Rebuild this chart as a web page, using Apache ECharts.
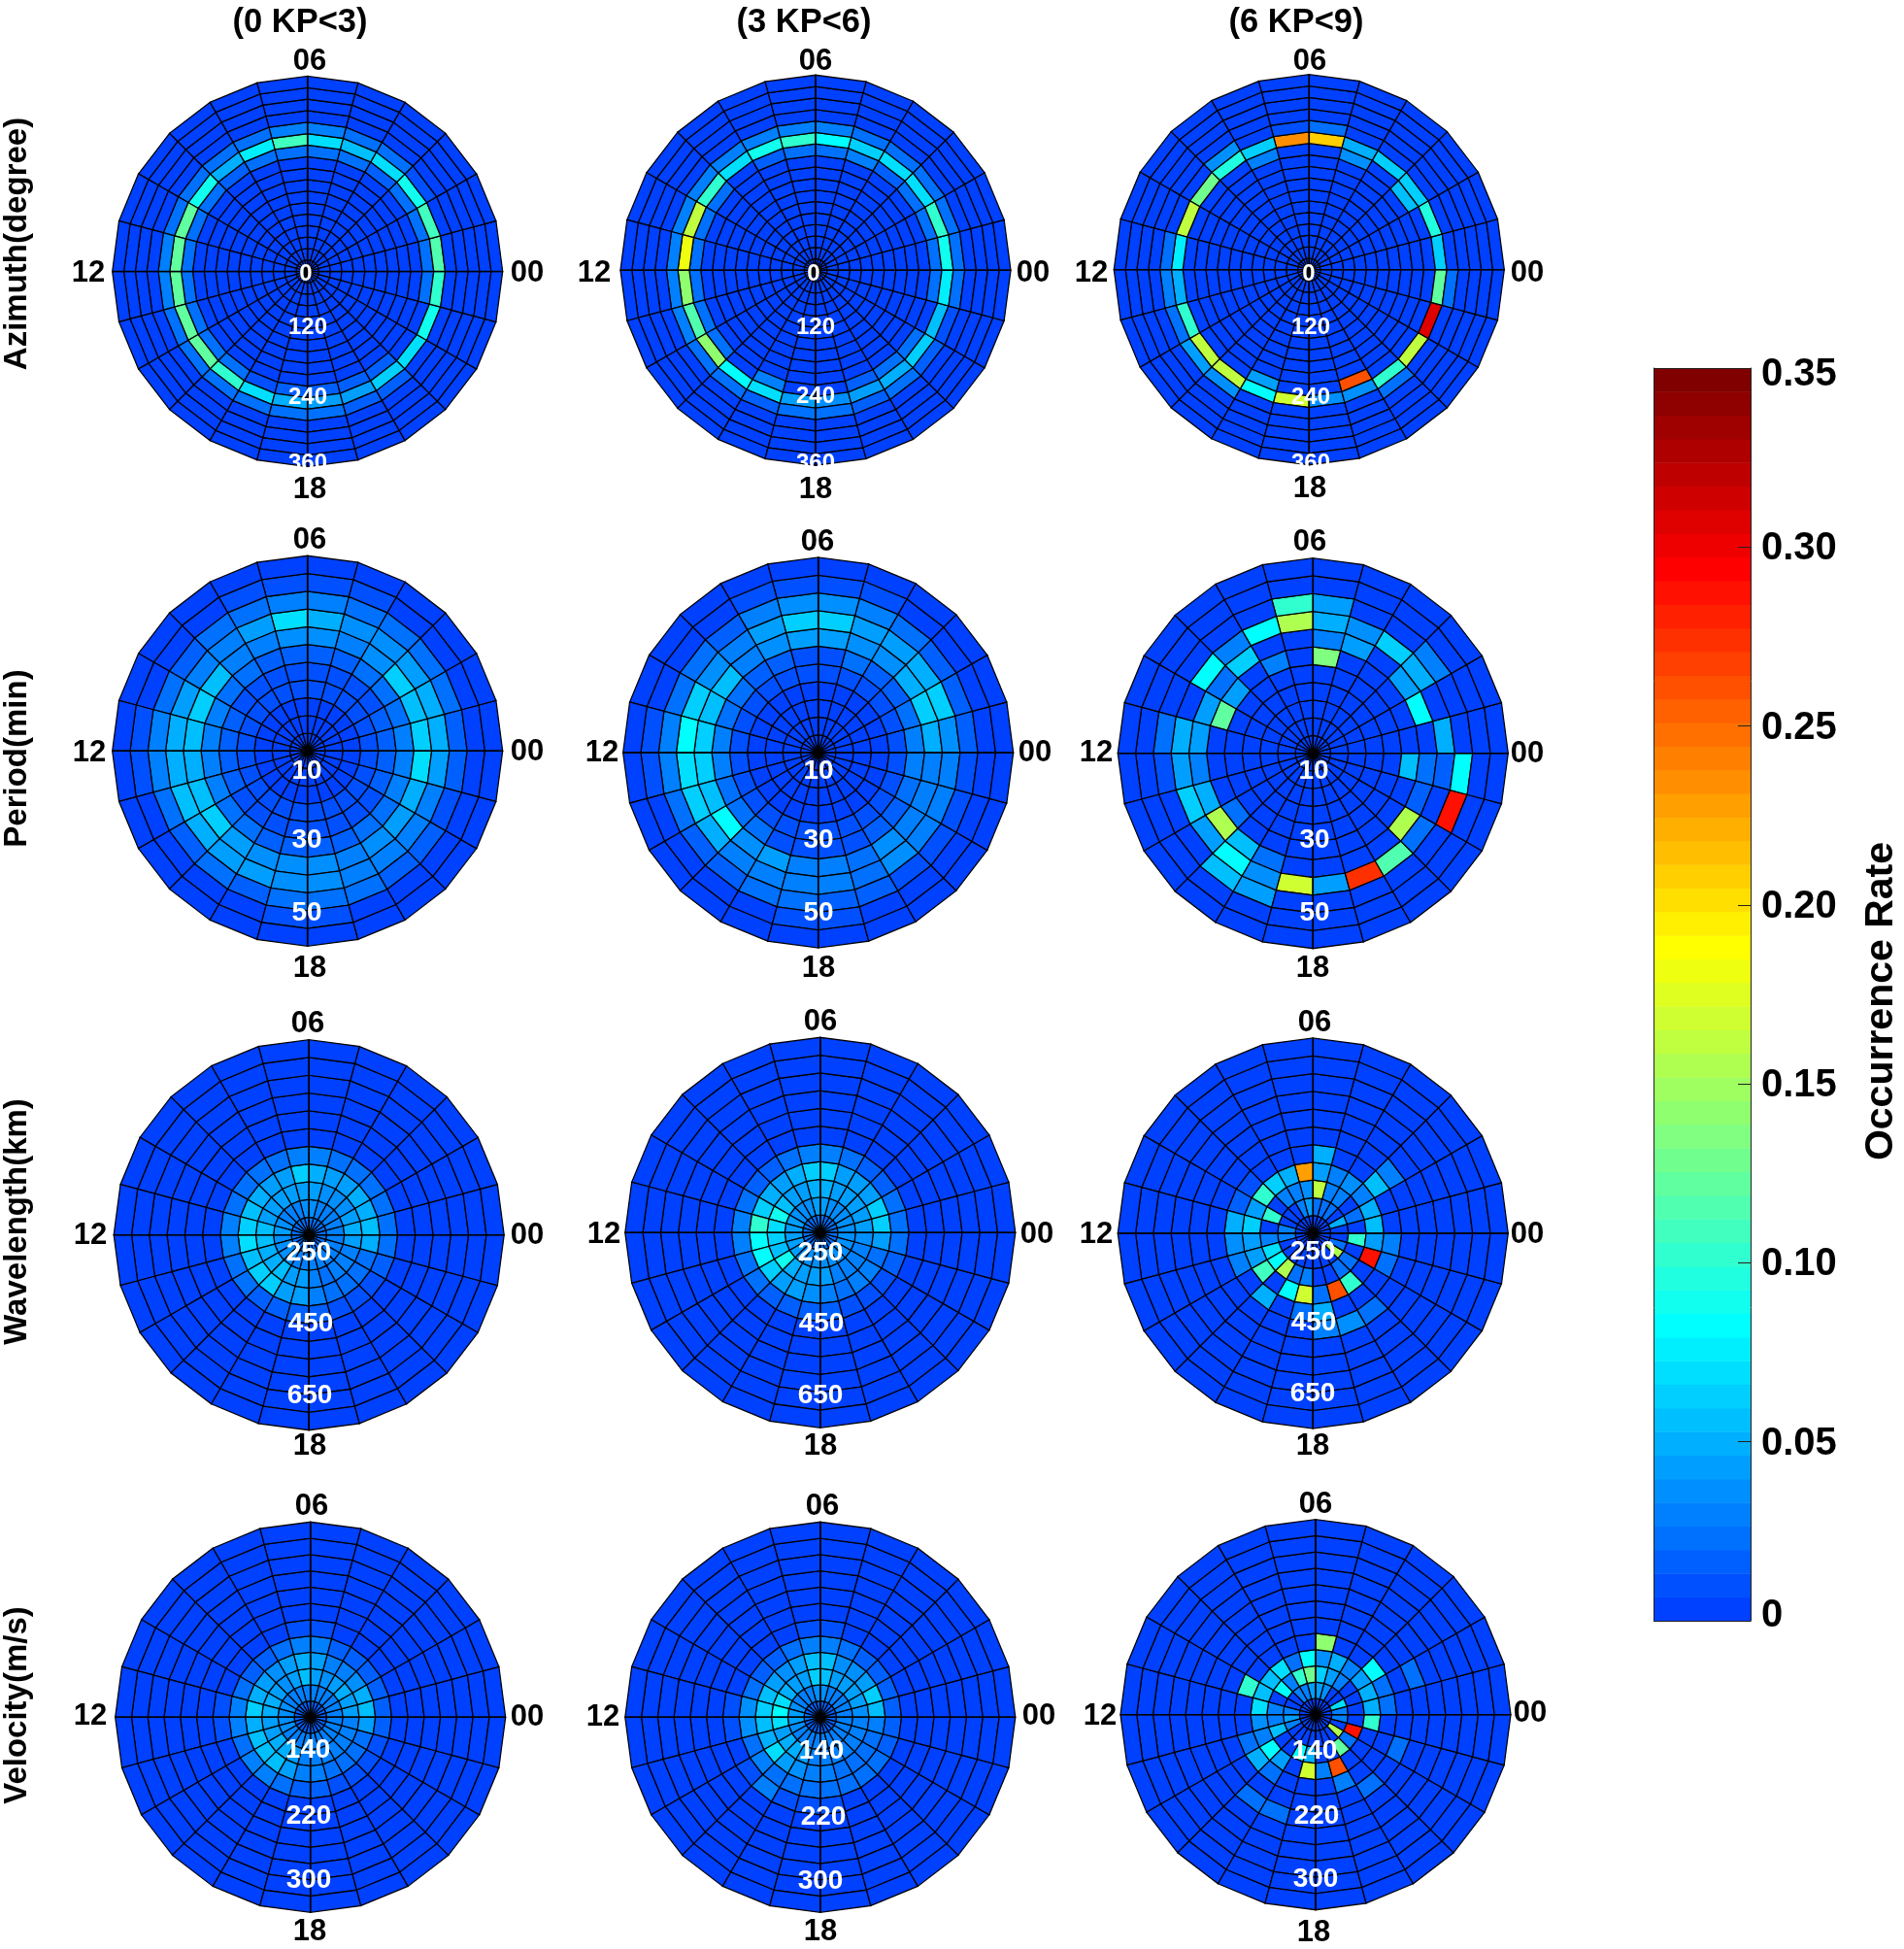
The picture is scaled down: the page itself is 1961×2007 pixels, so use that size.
<!DOCTYPE html>
<html>
<head>
<meta charset="utf-8">
<title>Occurrence Rate</title>
<script src="https://cdn.jsdelivr.net/npm/echarts@6/dist/echarts.min.js"></script>
<style>
  html, body { margin: 0; padding: 0; background: #fff; }
  #chart { width: 1961px; height: 2007px; }
</style>
</head>
<body>
<div id="chart"></div>
<script>
// local time sectors, counter clockwise from 00 on the right
const hourCount = 24
const kpTitles = ['(0 KP<3)', '(3 KP<6)', '(6 KP<9)']
const rowTitles = ['Azimuth(degree)', 'Period(min)', 'Wavelength(km)', 'Velocity(m/s)']
const ringCounts = [17, 11, 11, 12]
const hourLabels = ['06', '18', '12', '00']
const radialLabels = [['0', '120', '240', '360'], ['10', '30', '50'], ['250', '450', '650'], ['140', '220', '300']]
const scaleTicks = [0, 0.05, 0.1, 0.15, 0.2, 0.25, 0.3, 0.35]
const scaleMax = 0.35
const bandCount = 53

// rows are [ring, values for hour 0..23], anything not listed is background
const azimuthKp0 = [
  [10, [.022,.022,.022,.018,.02,.022,.022,.022,.018,.022,.022,.022,.022,.022,.02,.02,.012,.018,.018,.018,.018,0,0,.02]],
  [11, [.115,.11,.09,.07,.055,.07,.11,.078,.05,.09,.12,.12,.12,.12,.12,.10,.07,.05,.045,.04,.06,.07,.09,.105]],
  [12, [0,0,.012,.022,.02,.028,.028,.02,.022,.02,.022,.028,.028,.022,.022,.022,.022,.022,.022,.015,.015,0,0,0]]
]
const azimuthKp3 = [
  [10, [.025,.022,.02,.018,.03,.025,.022,.015,0,.022,.022,.022,.025,.02,.025,0,.03,0,0,.018,.025,.02,0,.025]],
  [11, [.09,.10,.07,.07,.06,.083,.10,.09,.07,.10,.165,.18,.14,.115,.145,.085,.07,.04,.035,.04,.05,.06,.055,.075]],
  [12, [.022,.025,.02,.022,.025,.028,.028,.03,.03,.03,.03,.03,.03,.03,.025,.02,.018,.025,.025,.018,.022,.018,.012,.022]]
]
const azimuthKp6 = [
  [10, [0,0,.055,0,.035,0,0,.03,0,0,0,0,0,0,0,0,.04,0,0,.26,0,0,0,0]],
  [11, [.06,.095,.06,.065,.048,.205,.235,.06,.095,.13,.165,.075,.05,.10,.165,.165,.08,.17,.035,.035,.10,.165,.307,.125]],
  [12, [0,0,0,0,0,.022,.008,0,.035,0,0,.025,.03,.025,.045,.035,0,0,0,0,.025,0,0,.022]]
]
const periodKp0 = [
  [3, [.007,.007,.007,.007,.007,.007,.007,.007,.007,.007,.007,.007,.007,.007,.007,.007,.007,.007,.007,.007,.007,.007,.007,.007]],
  [4, [.014,.014,.012,.012,.012,.012,.012,.012,.012,.012,.014,.014,.014,.014,.012,.012,.012,.012,.012,.012,.012,.012,.014,.014]],
  [5, [.028,.025,.02,.02,.018,.018,.018,.018,.02,.025,.028,.032,.032,.028,.025,.02,.018,.018,.018,.018,.02,.022,.03,.03]],
  [6, [.065,.055,.062,.035,.03,.035,.035,.03,.028,.055,.06,.055,.05,.058,.062,.045,.038,.036,.035,.032,.035,.04,.048,.072]],
  [7, [.05,.048,.042,.038,.035,.048,.072,.04,.03,.03,.04,.05,.05,.055,.05,.045,.04,.038,.036,.032,.032,.028,.028,.042]],
  [8, [.018,.02,.022,.02,.022,.028,.028,.024,.022,.018,.022,.028,.028,.022,.018,.02,.018,.025,.024,.022,.018,.014,.012,.015]],
  [9, [.006,.006,.006,.006,.008,.01,.01,.008,.006,.006,.006,.008,.008,.006,.006,.006,.006,.008,.008,.006,.006,.006,.006,.006]]
]
const periodKp3 = [
  [4, [.01,.008,.008,.008,.008,.008,.008,.008,.008,.008,.01,.012,.012,.01,.008,.008,.008,.008,.008,.008,.008,.008,.01,.01]],
  [5, [.028,.02,.018,.018,.02,.012,.012,.015,.018,.02,.025,.03,.03,.025,.022,.02,.012,.012,.012,.012,.014,.016,.022,.03]],
  [6, [.048,.065,.05,.038,.035,.04,.04,.038,.03,.055,.058,.06,.06,.058,.08,.035,.042,.032,.032,.025,.038,.03,.028,.03]],
  [7, [.038,.06,.05,.045,.04,.065,.065,.04,.028,.035,.06,.085,.072,.06,.05,.028,.03,.028,.028,.022,.035,.032,.03,.03]],
  [8, [.015,.015,.015,.022,.028,.035,.035,.03,.018,.02,.022,.032,.032,.02,.018,.015,.022,.02,.018,.018,.012,.012,.01,.01]],
  [9, [.006,.006,.006,.006,.008,.008,.008,.008,.006,.006,.006,.008,.008,.006,.006,.006,.006,.008,.008,.006,.006,.006,.006,.006]]
]
// sparse panels as [ring, hour, value]
const periodKp6 = [
  [8,6,.10],[7,6,.155],[8,5,.04],[7,5,.052],[6,5,.03],[5,5,.135],[7,4,.035],[6,4,.04],[7,3,.06],
  [8,2,.03],[7,2,.05],[6,2,.04],[6,1,.085],[7,0,.05],[8,23,.08],[5,23,.055],[6,23,.025],[7,23,.018],
  [8,22,.285],[6,22,.018],[6,21,.155],[7,21,.02],[7,20,.115],[7,19,.275],[7,18,.04],[7,17,.17],
  [8,16,.04],[7,16,.035],[6,16,.022],[7,15,.085],[8,15,.055],[6,15,.055],[6,14,.155],[7,14,.04],
  [7,13,.065],[6,13,.052],[5,14,.02],[7,12,.042],[6,12,.032],[8,11,.025],[7,11,.048],[6,11,.045],
  [5,10,.12],[6,10,.042],[7,9,.08],[6,8,.065],[7,8,.03],[6,9,.025],[5,9,.04],[7,7,.085],[5,7,.028],[8,12,.01]
]
const wavelengthKp0 = [
  [0, [.02,.02,.02,.02,.02,.02,.02,.02,.02,.02,.02,.02,.02,.02,.02,.02,.02,.02,.02,.02,.02,.02,.02,.02]],
  [1, [.03,.03,.03,.03,.03,.035,.035,.03,.03,.03,.035,.04,.035,.035,.035,.035,.03,.03,.03,.03,.03,.03,.03,.03]],
  [2, [.052,.045,.035,.035,.035,.04,.04,.04,.04,.04,.04,.055,.055,.048,.05,.058,.045,.04,.03,.025,.028,.032,.032,.04]],
  [3, [.058,.05,.05,.04,.04,.048,.065,.04,.04,.05,.055,.065,.07,.055,.06,.06,.045,.04,.028,.022,.025,.022,.022,.05]],
  [4, [.022,.022,.02,.02,.022,.03,.03,.025,.02,.02,.025,.03,.03,.022,.02,.018,.016,.016,.016,.012,.012,.012,.014,.022]]
]
const wavelengthKp3 = [
  [0, [.02,.02,.02,.02,.02,.025,.025,.02,.02,.02,.025,.025,.025,.025,.025,.02,.02,.02,.02,.02,.02,.02,.02,.02]],
  [1, [.035,.035,.035,.035,.035,.04,.04,.035,.035,.035,.04,.045,.045,.04,.04,.035,.035,.035,.035,.035,.035,.035,.035,.035]],
  [2, [.04,.045,.04,.04,.04,.05,.05,.045,.045,.055,.09,.072,.065,.055,.09,.05,.045,.045,.04,.03,.03,.032,.032,.035]],
  [3, [.065,.06,.04,.04,.045,.065,.065,.048,.04,.05,.06,.105,.08,.085,.065,.045,.04,.035,.03,.022,.028,.028,.025,.045]],
  [4, [.025,.02,.018,.018,.02,.028,.028,.022,.018,.018,.022,.03,.03,.025,.025,.018,.015,.015,.015,.012,.012,.012,.015,.022]]
]
const wavelengthKp6 = [
  [3,6,.225],[4,5,.05],[3,5,.04],[2,5,.165],[2,6,.035],[1,5,.025],[1,6,.04],[3,4,.032],[2,4,.03],[3,3,.035],[2,3,.03],
  [4,2,.058],[5,2,.03],[3,1,.05],[3,0,.058],[3,2,.03],[2,1,.02],[1,1,.05],[4,23,.03],[2,23,.10],[3,23,.04],[3,22,.29],
  [4,22,.025],[1,21,.155],[1,22,.02],[2,21,.02],[3,20,.105],[5,20,.025],[3,19,.26],[5,19,.035],[4,18,.05],[5,18,.03],
  [3,18,.02],[3,17,.17],[3,16,.085],[4,15,.05],[2,15,.155],[3,14,.11],[2,14,.08],[3,13,.04],[2,13,.07],[4,13,.03],
  [3,12,.04],[4,12,.035],[2,12,.03],[1,12,.03],[4,11,.05],[3,11,.06],[1,11,.03],[3,10,.04],[2,10,.10],[3,9,.10],
  [3,8,.065],[2,8,.03],[3,7,.05],[2,7,.03],[1,7,.03],[1,4,.025],[1,3,.025],[4,10,.015],[4,9,.012],[2,17,.03],[2,16,.025],[2,20,.02],[4,17,.02]
]
const velocityKp0 = [
  [0, [.015,.015,.015,.015,.015,.015,.015,.015,.015,.015,.015,.015,.015,.015,.015,.015,.015,.015,.015,.015,.015,.015,.015,.015]],
  [1, [.03,.03,.03,.03,.03,.03,.03,.03,.03,.03,.035,.035,.035,.035,.03,.03,.03,.03,.03,.03,.03,.03,.03,.03]],
  [2, [.04,.045,.048,.04,.035,.04,.055,.04,.038,.045,.052,.05,.045,.045,.05,.05,.04,.03,.03,.028,.028,.028,.028,.03]],
  [3, [.055,.05,.035,.03,.03,.045,.05,.04,.035,.04,.05,.06,.05,.058,.055,.055,.045,.032,.028,.022,.022,.022,.02,.04]],
  [4, [.018,.018,.015,.015,.018,.028,.028,.022,.018,.018,.022,.03,.028,.025,.028,.028,.022,.018,.018,.012,.012,.012,.012,.016]],
  [5, [.005,.005,.005,.005,.006,.01,.01,.006,.005,.005,.006,.008,.008,.006,.006,.006,.005,.005,.005,.005,.005,.005,.005,.005]]
]
const velocityKp3 = [
  [0, [.015,.015,.015,.015,.015,.015,.015,.015,.015,.015,.015,.02,.02,.015,.015,.015,.015,.015,.015,.015,.015,.015,.015,.015]],
  [1, [.03,.03,.03,.03,.03,.035,.035,.03,.03,.03,.035,.04,.04,.035,.03,.03,.03,.03,.03,.03,.03,.03,.03,.03]],
  [2, [.035,.045,.045,.04,.04,.055,.062,.045,.04,.05,.07,.08,.07,.04,.05,.05,.04,.03,.03,.028,.028,.028,.028,.03]],
  [3, [.058,.06,.045,.035,.035,.055,.055,.04,.035,.045,.055,.06,.058,.05,.072,.045,.035,.03,.03,.022,.022,.022,.02,.03]],
  [4, [.018,.018,.015,.015,.02,.028,.028,.022,.018,.018,.025,.035,.035,.025,.03,.025,.022,.02,.022,.022,.02,.02,.015,.015]],
  [5, [.005,.005,.005,.005,.006,.008,.008,.006,.005,.005,.006,.008,.008,.006,.008,.03,.012,.008,.008,.006,.006,.005,.005,.005]]
]
const velocityKp6 = [
  [4,5,.14],[3,6,.08],[3,5,.035],[2,6,.13],[2,7,.10],[2,5,.065],[2,4,.04],[3,4,.05],[1,5,.045],[1,6,.04],
  [4,2,.08],[3,3,.03],[3,1,.05],[3,0,.05],[4,0,.025],[4,1,.022],[6,1,.02],[1,1,.07],[1,0,.03],[3,23,.105],[1,23,.03],
  [2,22,.29],[1,21,.155],[2,21,.02],[2,20,.12],[3,19,.26],[4,19,.03],[5,20,.025],[5,22,.025],[3,18,.028],[3,17,.17],
  [2,16,.08],[2,17,.05],[3,15,.045],[3,14,.085],[4,14,.05],[4,15,.025],[6,15,.025],[6,16,.022],[3,12,.035],[2,12,.03],
  [4,13,.025],[2,13,.055],[3,13,.03],[1,13,.03],[1,12,.045],[3,11,.07],[2,11,.03],[1,11,.03],[4,10,.105],[3,10,.055],
  [2,9,.085],[3,9,.058],[3,8,.07],[2,8,.03],[3,7,.02],[1,7,.03],[1,4,.035],[3,2,.04],[2,3,.03],[1,8,.03]
]

const panelData = [
  [azimuthKp0, azimuthKp3, azimuthKp6],
  [periodKp0, periodKp3, periodKp6],
  [wavelengthKp0, wavelengthKp3, wavelengthKp6],
  [velocityKp0, velocityKp3, velocityKp6]
]

// layout
const panelRadius = 201
const panelCenters = [
  [[316.7, 279.5], [840, 278.3], [1348.3, 277.7]],
  [[316.7, 773.3], [842.7, 775], [1352.3, 775.7]],
  [[318.2, 1271.7], [844.8, 1269.3], [1352.3, 1270]],
  [[319.7, 1768.3], [844.8, 1768.3], [1355, 1765.7]]
]
const hourLabelPos = [
  [[[319,62],[319,503],[91,280],[543,280]], [[840,62],[840,503],[612,280],[1064,280]], [[1349,62],[1349,502],[1124,280],[1573,280]]],
  [[[319,555],[319,996],[92,774],[543,773]], [[842,557],[843,996],[620,774],[1066,774]], [[1349,557],[1352,996],[1129,774],[1573,775]]],
  [[[317,1053],[319,1488],[93,1271],[543,1271]], [[845,1051],[845,1488],[622,1270],[1068,1270]], [[1354,1052],[1352,1488],[1129,1270],[1573,1270]]],
  [[[321,1550],[319,1988],[93,1766],[543,1767]], [[847,1550],[845,1988],[621,1767],[1070,1766]], [[1355,1548],[1353,1989],[1133,1766],[1576,1763]]]
]
const radialLabelPos = [
  [[[315,280],[317,335],[317,407],[317,475]], [[838,280],[840,335],[840,406],[840,475]], [[1348,280],[1350,335],[1350,407],[1350,475]]],
  [[[316,792],[316,863],[316,938]], [[843,792],[843,863],[843,938]], [[1353,792],[1354,863],[1354,938]]],
  [[[318,1288],[320,1361],[319,1435]], [[845,1288],[846,1361],[845,1435]], [[1352,1287],[1353,1360],[1352,1433]]],
  [[[317,1800],[318,1868],[318,1934]], [[846,1801],[848,1869],[845,1935]], [[1354,1801],[1356,1868],[1355,1933]]]
]
const columnTitlePos = [[309, 23], [828, 23], [1335, 23]]
const rowTitlePos = [[18, 251], [18, 781], [18, 1258], [18, 1756]]
const radialFontSizes = [24, 28, 28, 28]

const FONT = '"Liberation Sans", Arial, sans-serif'

// jet colormap, the bar only uses levels 12..64 of 64
const jetLevel = (i) => {
  const ramp = (a) => Math.max(0, Math.min(1, a))
  const r = i <= 56 ? ramp((i - 24) / 16) : 1 - (i - 56) / 16
  const g = i <= 24 ? ramp((i - 8) / 16) : ramp(1 - (i - 40) / 16)
  const b = i <= 8 ? 0.5 + i / 16 : ramp(1 - (i - 24) / 16)
  return `rgb(${Math.round(r * 255)},${Math.round(g * 255)},${Math.round(b * 255)})`
}
const rateColor = (v) => {
  const band = Math.min(bandCount - 1, Math.floor(v / scaleMax * bandCount))
  return jetLevel(12 + band)
}

// fill every cell of a panel, listed values overwrite the background
const panelCells = (rows, rings) => {
  const grid = []
  for (let r = 0; r < rings; r++) grid.push(new Array(hourCount).fill(0))
  rows.forEach((row) => {
    if (Array.isArray(row[1])) row[1].forEach((v, h) => { grid[row[0]][h] = v })
    else grid[row[0]][row[1]] = row[2]
  })
  const cells = []
  grid.forEach((vals, r) => vals.forEach((v, h) => cells.push([r, h, v])))
  return cells
}

const renderCell = (params, api) => {
  const r = api.value(0)
  const h = api.value(1)
  return {
    type: 'polygon',
    shape: { points: [api.coord([r, h]), api.coord([r + 1, h]), api.coord([r + 1, h + 1]), api.coord([r, h + 1])] },
    style: { fill: rateColor(api.value(2)), stroke: '#000', lineWidth: 1.25 }
  }
}

const polar = []
const radiusAxis = []
const angleAxis = []
const series = []
const texts = []

const addText = (text, pos, size, color, rotation, dy) => {
  texts.push({
    type: 'text', x: pos[0], y: pos[1] + (dy || 0), rotation: rotation || 0, z: 100, silent: true,
    style: { text, fill: color, font: `bold ${size}px ${FONT}`, textAlign: 'center', textVerticalAlign: 'middle' }
  })
}

panelData.forEach((row, ri) => {
  row.forEach((rows, ci) => {
    const idx = polar.length
    polar.push({ center: panelCenters[ri][ci], radius: panelRadius })
    radiusAxis.push({ polarIndex: idx, type: 'value', min: 0, max: ringCounts[ri], show: false })
    angleAxis.push({
      polarIndex: idx, type: 'value', min: 0, max: hourCount, interval: 6, startAngle: 0, clockwise: false, z: 5,
      axisLine: { show: false }, axisTick: { show: false }, axisLabel: { show: false },
      splitLine: { show: true, lineStyle: { color: '#000', width: 1.6 } }
    })
    series.push({
      type: 'custom', coordinateSystem: 'polar', polarIndex: idx, silent: true,
      encode: { radius: 0, angle: 1 },
      data: panelCells(rows, ringCounts[ri]),
      renderItem: renderCell
    })
    hourLabels.forEach((t, k) => addText(t, hourLabelPos[ri][ci][k], 31, '#000', 0, 1.5))
    radialLabels[ri].forEach((t, k) => addText(t, radialLabelPos[ri][ci][k], radialFontSizes[ri], '#fff', 0, 2.5))
  })
})

kpTitles.forEach((t, i) => addText(t, columnTitlePos[i], 34.5, '#000'))
rowTitles.forEach((t, i) => addText(t, rowTitlePos[i], 33, '#000', Math.PI / 2))
addText('Occurrence Rate', [1938, 1031], 41, '#000', Math.PI / 2)

// colour bar, drawn as bands on its own value axis
const bands = []
for (let i = 0; i < bandCount; i++) bands.push([i / bandCount * scaleMax, (i + 1) / bandCount * scaleMax, 12 + i])

series.push({
  type: 'custom', coordinateSystem: 'cartesian2d', xAxisIndex: 0, yAxisIndex: 1, silent: true,
  encode: { y: [0, 1] },
  data: bands,
  renderItem: (params, api) => {
    const a = api.coord([0, api.value(0)])
    const b = api.coord([1, api.value(1)])
    return {
      type: 'rect',
      shape: { x: a[0], y: b[1], width: b[0] - a[0], height: a[1] - b[1] + 0.5 },
      style: { fill: jetLevel(api.value(2)) }
    }
  }
})

const frame = { show: true, onZero: false, lineStyle: { color: '#222', width: 1 } }
const tickText = { fontFamily: FONT, fontWeight: 'bold', fontSize: 40, color: '#000' }
const option = {
  animation: false,
  backgroundColor: '#fff',
  polar, radiusAxis, angleAxis, series,
  grid: { left: 1703.5, top: 379, width: 99.5, height: 1290 },
  xAxis: [
    { type: 'value', min: 0, max: 1, position: 'bottom', z: 5, axisLine: frame, axisTick: { show: false }, axisLabel: { show: false }, splitLine: { show: false } },
    { type: 'value', min: 0, max: 1, position: 'top', z: 5, axisLine: frame, axisTick: { show: false }, axisLabel: { show: false }, splitLine: { show: false } }
  ],
  yAxis: [
    { type: 'value', min: 0, max: scaleMax, position: 'left', z: 5, axisLine: frame, axisTick: { show: false }, axisLabel: { show: false }, splitLine: { show: false } },
    {
      type: 'value', min: 0, max: scaleMax, interval: 0.05, position: 'right', z: 5,
      axisLine: frame,
      axisTick: { show: true, inside: true, length: 13, lineStyle: { color: '#222', width: 1 } },
      splitLine: { show: false },
      axisLabel: {
        show: true, margin: 11, fontFamily: FONT, fontWeight: 'bold', fontSize: 40, color: '#000', align: 'left',
        showMinLabel: true, showMaxLabel: true, hideOverlap: false,
        // labels sit a little off their ticks in the figure, top and bottom most of all
        formatter: (v) => {
          const t = scaleTicks.find((s) => Math.abs(s - v) < 1e-6)
          if (t === 0) return '{low|0}'
          if (t === scaleMax) return '{high|' + t.toFixed(2) + '}'
          return '{mid|' + t.toFixed(2) + '}'
        },
        rich: {
          low: { ...tickText, padding: [0, 0, 10, 0] },
          mid: { ...tickText, padding: [4, 0, 0, 0] },
          high: { ...tickText, padding: [13, 0, 0, 0] }
        }
      }
    }
  ],
  graphic: { elements: texts }
}

const chart = echarts.init(document.getElementById('chart'))
chart.setOption(option)
window.addEventListener('resize', () => chart.resize())
</script>
</body>
</html>
